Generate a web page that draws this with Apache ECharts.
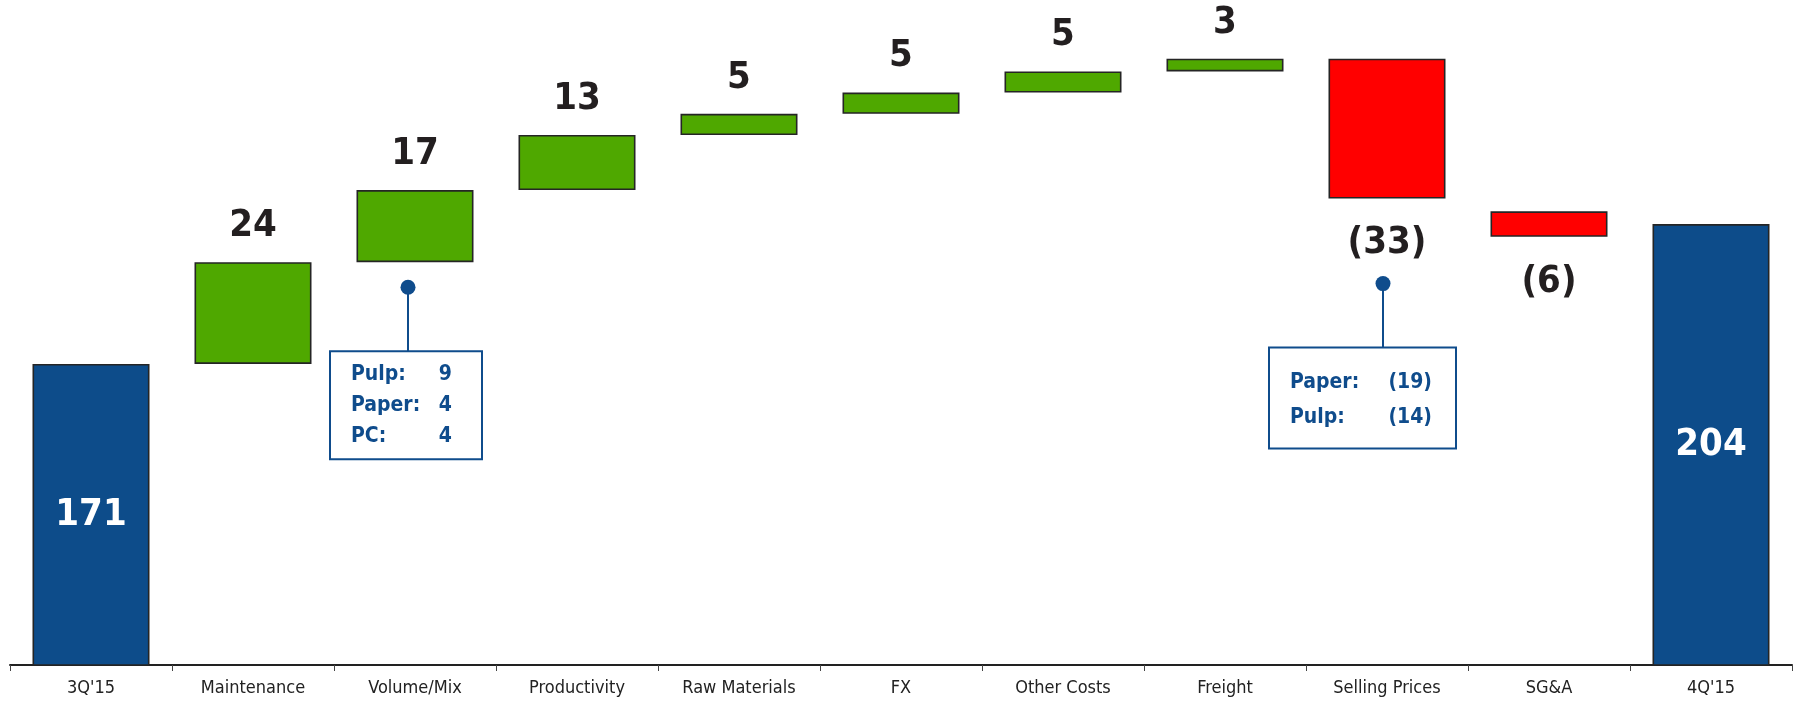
<!DOCTYPE html>
<html>
<head>
<meta charset="utf-8">
<script src="https://cdn.jsdelivr.net/npm/echarts@6/dist/echarts.min.js"></script>
<style>
html,body{margin:0;padding:0;background:#fff;}
#c{width:1797px;height:702px;}
</style>
</head>
<body>
<div id="c"></div>
<script>
// ---- data ----
const categories = ["3Q'15", "Maintenance", "Volume/Mix", "Productivity", "Raw Materials", "FX", "Other Costs", "Freight", "Selling Prices", "SG&A", "4Q'15"];
const totals     = [171, null, null, null, null, null, null, null, null, null, 204];
const increases  = [null, 24, 17, 13, 5, 5, 5, 3, null, null, null];
const decreases  = [null, null, null, null, null, null, null, null, 33, 6, null];
// lower edge of each floating bar, as drawn in the picture
const floatBase  = [null, 171, 195, 212, 225, 230, 235, 240, 210, 201, null];
const volumeMixNote = [["Pulp:", "9"], ["Paper:", "4"], ["PC:", "4"]];
const sellingNote   = [["Paper:", "(19)"], ["Pulp:", "(14)"]];
const yMin = 100, yMax = 250;

// ---- styles ----
const FONT = "'Liberation Sans Narrow','Arial Narrow','DejaVu Sans Condensed',sans-serif";
const BLUE = '#0d4c8a', GREEN = '#4fa800', RED = '#ff0000', EDGE = '#252525', NOTE = '#0f4c8c';

const chart = echarts.init(document.getElementById('c'), null, {renderer: 'canvas'});
const toNull = v => (v == null ? '-' : v);
const valLabel = {show: true, fontFamily: FONT, fontWeight: 'bold', fontSize: 38, color: '#231f20'};
const barCommon = {type: 'bar', stack: 'w', barWidth: 117, silent: true};

chart.setOption({
  animation: false,
  grid: {left: 10, right: 5, top: 29, bottom: 37, outerBoundsMode: 'none'},
  xAxis: {
    type: 'category', data: categories,
    axisLine: {lineStyle: {color: '#222', width: 2}},
    axisTick: {show: true, interval: 0, length: 6, lineStyle: {color: '#444', width: 1}},
    axisLabel: {interval: 0, fontFamily: FONT, fontSize: 18, color: '#222', margin: 14}
  },
  yAxis: {type: 'value', min: yMin, max: yMax, show: false, splitLine: {show: false}},
  series: [
    Object.assign({}, barCommon, {
      name: 'base', data: floatBase.map(toNull),
      itemStyle: {color: 'transparent', borderWidth: 0}
    }),
    Object.assign({}, barCommon, {
      name: 'increase', data: increases.map(toNull),
      itemStyle: {color: GREEN, borderColor: EDGE, borderWidth: 1.6},
      label: Object.assign({}, valLabel, {position: 'top', distance: 17})
    }),
    Object.assign({}, barCommon, {
      name: 'decrease', data: decreases.map(toNull),
      itemStyle: {color: RED, borderColor: EDGE, borderWidth: 1.6},
      label: Object.assign({}, valLabel, {position: 'bottom', distance: 26, formatter: p => '(' + p.value + ')'})
    }),
    Object.assign({}, barCommon, {
      name: 'total', data: totals.map(toNull),
      itemStyle: {color: BLUE, borderColor: EDGE, borderWidth: 1.6},
      label: Object.assign({}, valLabel, {position: 'inside', color: '#ffffff'})
    })
  ]
});

// ---- callout annotations, anchored to the bars through the axes ----
function callout(catIdx, anchorValue, dotDy, dx, boxLeft, boxW, boxTopDy, boxH, rows, rowY, valRight) {
  const p = chart.convertToPixel({gridIndex: 0}, [catIdx, anchorValue]);
  const cx = p[0] + dx, cy = p[1] + dotDy;
  const bx = cx + boxLeft, by = cy + boxTopDy;
  const els = [
    {type: 'line', shape: {x1: cx, y1: cy, x2: cx, y2: by}, style: {stroke: NOTE, lineWidth: 2}},
    {type: 'circle', shape: {cx: cx, cy: cy, r: 7.5}, style: {fill: NOTE}},
    {type: 'rect', shape: {x: bx, y: by, width: boxW, height: boxH}, style: {fill: '#fff', stroke: NOTE, lineWidth: 2}}
  ];
  rows.forEach((r, i) => {
    const ty = by + rowY[i];
    els.push({type: 'text', x: bx + 21, y: ty, style: {text: r[0], fill: NOTE, font: 'bold 21px ' + FONT, textAlign: 'left', textVerticalAlign: 'middle'}});
    els.push({type: 'text', x: bx + valRight, y: ty, style: {text: r[1], fill: NOTE, font: 'bold 21px ' + FONT, textAlign: 'right', textVerticalAlign: 'middle'}});
  });
  return els;
}

const vmIdx = categories.indexOf('Volume/Mix');
const spIdx = categories.indexOf('Selling Prices');
const g = [].concat(
  callout(vmIdx, floatBase[vmIdx], 25, -7, -78, 152, 64, 108, volumeMixNote, [23, 54, 85], 122),
  callout(spIdx, floatBase[spIdx], 85, -4, -114, 187, 64, 101, sellingNote, [35, 70], 163)
);
chart.setOption({graphic: g});
</script>
</body>
</html>
